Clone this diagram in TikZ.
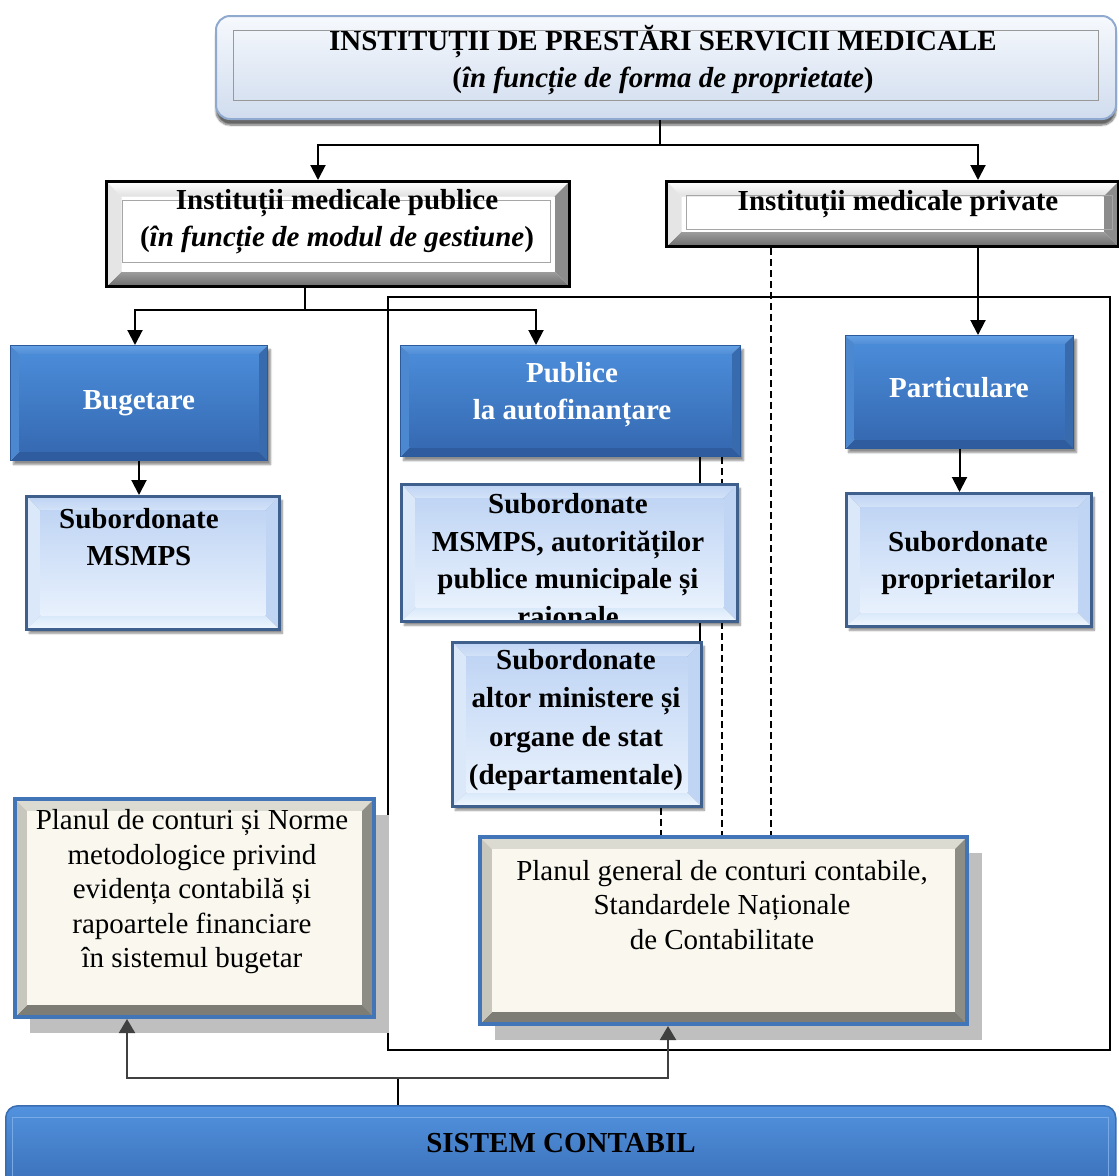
\documentclass[tikz,border=0pt]{standalone}
\usepackage{fontspec}
\setmainfont{Liberation Serif}
\usetikzlibrary{calc,shadows.blur,arrows.meta}

\definecolor{bluebd}{HTML}{2B5B9C}
\definecolor{subbd}{HTML}{3F5F8C}
\definecolor{creambd}{HTML}{4275B8}
\definecolor{cream}{HTML}{FAF8EE}
\definecolor{shadowgray}{HTML}{BFBFBF}
\definecolor{arrowgray}{HTML}{404040}
\definecolor{bvtopA}{RGB}{100,160,228}
\definecolor{bvtopB}{RGB}{80,141,214}
\definecolor{bvright}{RGB}{56,106,174}
\definecolor{bvbottom}{RGB}{46,92,158}
\definecolor{bvleft}{RGB}{76,136,208}
\definecolor{bvcA}{RGB}{74,139,216}
\definecolor{bvcB}{RGB}{54,106,178}
\definecolor{sbtopA}{RGB}{190,211,243}
\definecolor{sbtopB}{RGB}{210,226,248}
\definecolor{sbright}{RGB}{192,213,244}
\definecolor{sbbotA}{RGB}{216,232,250}
\definecolor{sbbotB}{RGB}{240,246,254}
\definecolor{sbleft}{RGB}{218,232,250}
\definecolor{sbcA}{RGB}{192,213,244}
\definecolor{sbcB}{RGB}{232,241,253}
\definecolor{crtop}{RGB}{220,219,210}
\definecolor{crright}{RGB}{141,140,133}
\definecolor{crbottom}{RGB}{125,124,117}
\definecolor{crleft}{RGB}{200,199,189}
\definecolor{tbborder}{RGB}{143,169,207}
\definecolor{tbtop}{RGB}{246,249,253}
\definecolor{tbbottom}{RGB}{208,220,238}
\definecolor{sisborder}{RGB}{58,109,176}
\definecolor{sistop}{RGB}{82,146,222}
\definecolor{sisbottom}{RGB}{56,108,180}
\definecolor{sisline}{RGB}{120,170,230}

\tikzset{
  % four bevelled edges around a flat or shaded centre
  bevel/.style n args={6}{path picture={
      \path (path picture bounding box.north west) coordinate (bvA)
            (path picture bounding box.north east) coordinate (bvB)
            (path picture bounding box.south east) coordinate (bvC)
            (path picture bounding box.south west) coordinate (bvD)
            ([shift={(#1pt,-#1pt)}]path picture bounding box.north west) coordinate (bva)
            ([shift={(-#1pt,-#1pt)}]path picture bounding box.north east) coordinate (bvb)
            ([shift={(-#1pt,#1pt)}]path picture bounding box.south east) coordinate (bvc)
            ([shift={(#1pt,#1pt)}]path picture bounding box.south west) coordinate (bvd);
      \path[#2] (bvA) -- (bvB) -- (bvb) -- (bva) -- cycle;
      \path[#3] (bvB) -- (bvC) -- (bvc) -- (bvb) -- cycle;
      \path[#4] (bvC) -- (bvD) -- (bvd) -- (bvc) -- cycle;
      \path[#5] (bvD) -- (bvA) -- (bva) -- (bvd) -- cycle;
      \path[#6] (bva) rectangle (bvc);
  }},
  boxbase/.style={rectangle, anchor=north west, inner sep=0pt},
  bluebox/.style={boxbase, draw=bluebd, line width=1pt,
    blur shadow={shadow xshift=3pt, shadow yshift=-4pt, shadow opacity=45, shadow blur steps=6},
    bevel={9}{top color=bvtopA,bottom color=bvtopB}{fill=bvright}{fill=bvbottom}{fill=bvleft}
          {top color=bvcA,bottom color=bvcB},
    text=white, font=\fontsize{29}{37}\selectfont\bfseries, align=center},
  subbox/.style={boxbase, draw=subbd, line width=2.5pt,
    blur shadow={shadow xshift=3pt, shadow yshift=-4pt, shadow opacity=45, shadow blur steps=6},
    bevel={14}{top color=sbtopA,bottom color=sbtopB}{fill=sbright}
          {top color=sbbotA,bottom color=sbbotB}{fill=sbleft}
          {top color=sbcA,bottom color=sbcB}},
  greybox/.style={boxbase, draw=black, line width=3pt,
    bevel={15}{top color=white,bottom color=black!12}{fill=black!45}
          {top color=black!38,bottom color=black!58}{fill=black!10}{fill=white}},
  creambox/.style={boxbase, draw=creambd, line width=4pt,
    drop shadow={shadow xshift=15pt, shadow yshift=-16pt, fill=shadowgray, opacity=1},
    bevel={12}{fill=crtop}{fill=crright}{fill=crbottom}{fill=crleft}{fill=cream}},
  boldtxt/.style={font=\fontsize{29}{37}\selectfont\bfseries, align=center, inner sep=0pt},
  plaintxt/.style={font=\fontsize{29}{34.5}\selectfont, align=center, inner sep=0pt},
  conn/.style={line width=2pt, draw=black},
  arr/.style={conn, -{Triangle[width=15pt,length=15pt]}},
  uparr/.style={line width=2pt, draw=arrowgray, -{Triangle[width=16pt,length=14pt]}, color=arrowgray},
  dashline/.style={line width=1.5pt, dash pattern=on 7pt off 4pt},
}

\begin{document}
\begin{tikzpicture}[x=1pt,y=-1pt]
\useasboundingbox (0,0) rectangle (1119,1176);

% ---------- frame around the self-financing and private branches
\draw[line width=1.3pt] (388,297) rectangle (1110,1050);

% ---------- top level
\node[rectangle, anchor=north west, minimum width=900, minimum height=103,
      rounded corners=14pt, draw=tbborder, line width=2pt,
      top color=tbtop, bottom color=tbbottom,
      blur shadow={shadow xshift=0pt, shadow yshift=-6pt, shadow opacity=60, shadow blur steps=8}]
      (tb) at (215,15) {};
\draw[black!40, line width=0.8pt] (233,30) rectangle (1098,100);
\node[boldtxt] (tbt) at (663,60) {INSTITUȚII DE PRESTĂRI SERVICII MEDICALE\\(\textit{în funcție de forma de proprietate})};

% ---------- public / private
\node[greybox, minimum width=463, minimum height=105] (pub) at (105,180) {};
\draw[black!35, line width=0.8pt] (122,200) rectangle (550,262);
\node[boldtxt] (pubt) at (337,222) {Instituții medicale publice\\(\textit{în funcție de modul de gestiune})};

\node[greybox, minimum width=452, minimum height=65] (priv) at (665,180) {};
\draw[black!35, line width=0.8pt] (686,195) rectangle (1112,229);
\node[boldtxt] (privt) at (898,204) {Instituții medicale private};

% ---------- connectors from the top level
\coordinate (t1) at (660,145);
\coordinate (tL) at (318,145);
\coordinate (tR) at (978,145);
\draw[conn] (tb.south -| t1) -- (t1);
\draw[arr] (t1) -- (tL) -- (tL |- pub.north);
\draw[arr] (t1) -- (tR) -- (tR |- priv.north);

\coordinate (p1) at (305,310);
\coordinate (pL) at (135,310);
\coordinate (pR) at (536,310);

% ---------- second level: management modes
\node[bluebox, minimum width=257, minimum height=115] (bug) at (10,345) {Bugetare};
\node[bluebox, minimum width=340, minimum height=111] (publ) at (400,345) {};
\node[boldtxt, text=white] (publt) at (572,395) {Publice\\la autofinanțare};
\node[bluebox, minimum width=228, minimum height=113] (part) at (845,335) {};
\node[boldtxt, text=white] (partt) at (959,388) {Particulare};

\draw[conn] (pub.south -| p1) -- (p1);
\draw[arr] (p1) -- (pL) -- (pL |- bug.north);
\draw[arr] (p1) -- (pR) -- (pR |- publ.north);
\draw[arr] (priv.south -| tR) -- (tR |- part.north);

% ---------- x positions of the links down to the accounting plan
\coordinate (s1) at (700,0);
\coordinate (s2) at (722,0);
\coordinate (s3) at (771,0);
\coordinate (s4) at (661,0);

% ---------- accounting plans
\node[creambox, minimum width=359, minimum height=218] (pl1) at (13,797) {};
\node[plaintxt] (pl1t) at (192,892) {Planul de conturi și Norme\\metodologice privind\\evidența contabilă și\\rapoartele financiare\\în sistemul bugetar};

\node[creambox, minimum width=487, minimum height=187] (pg) at (478,835) {};
\node[plaintxt] (pgt) at (722,905) {Planul general de conturi contabile,\\Standardele Naționale\\de Contabilitate};

\draw[conn] (publ.south -| s1) -- (s1 |- 0,703);
\draw[dashline] (publ.south -| s2) -- (s2 |- pg.north);
\draw[dashline] (priv.south -| s3) -- (s3 |- pg.north);

% ---------- subordination boxes
\node[subbox, minimum width=253, minimum height=133] (msm) at (25,495) {};
\node[boldtxt] (msmt) at (139,537) {Subordonate\\MSMPS};
\draw[arr] (bug.south) -- (bug.south |- msm.north);

\node[subbox, minimum width=336, minimum height=137] (sub1) at (400,483) {};
\begin{scope}
  \clip (402,485) rectangle (734,619);
  \node[boldtxt, font=\fontsize{29}{37.5}\selectfont\bfseries] (sub1t) at (568,560)
    {Subordonate\\MSMPS, autorităților\\publice municipale și\\raionale};
\end{scope}

\node[subbox, minimum width=249, minimum height=164] (dep) at (451,641) {};
\node[boldtxt, font=\fontsize{29}{38.5}\selectfont\bfseries] (dept) at (576,720)
  {Subordonate\\altor ministere și\\organe de stat\\(departamentale)};
\draw[dashline] (dep.south -| s4) -- (s4 |- pg.north);

\node[subbox, minimum width=245, minimum height=133] (prop) at (845,492) {};
\node[boldtxt] (propt) at (968,563) {Subordonate\\proprietarilor};
\draw[arr] (part.south) -- (part.south |- prop.north);

% ---------- accounting system
\node[rectangle, anchor=north west, minimum width=1110, minimum height=90,
      rounded corners=12pt, draw=sisborder, line width=1.5pt,
      top color=sistop, bottom color=sisbottom]
      (sis) at (5,1105) {};
\draw[sisline, line width=1pt] (12,1176) -- (12,1117) -- (1108,1117) -- (1108,1176);
\node[boldtxt] (sist) at (561,1143) {SISTEM CONTABIL};

\coordinate (b1) at (398,1078);
\coordinate (bL) at (127,1078);
\coordinate (bR) at (668,1078);
\draw[conn] (sis.north -| b1) -- (b1);
\draw[uparr] (b1) -- (bL) -- (bL |- pl1.south);
\draw[uparr] (b1) -- (bR) -- (bR |- pg.south);
\end{tikzpicture}
\end{document}
